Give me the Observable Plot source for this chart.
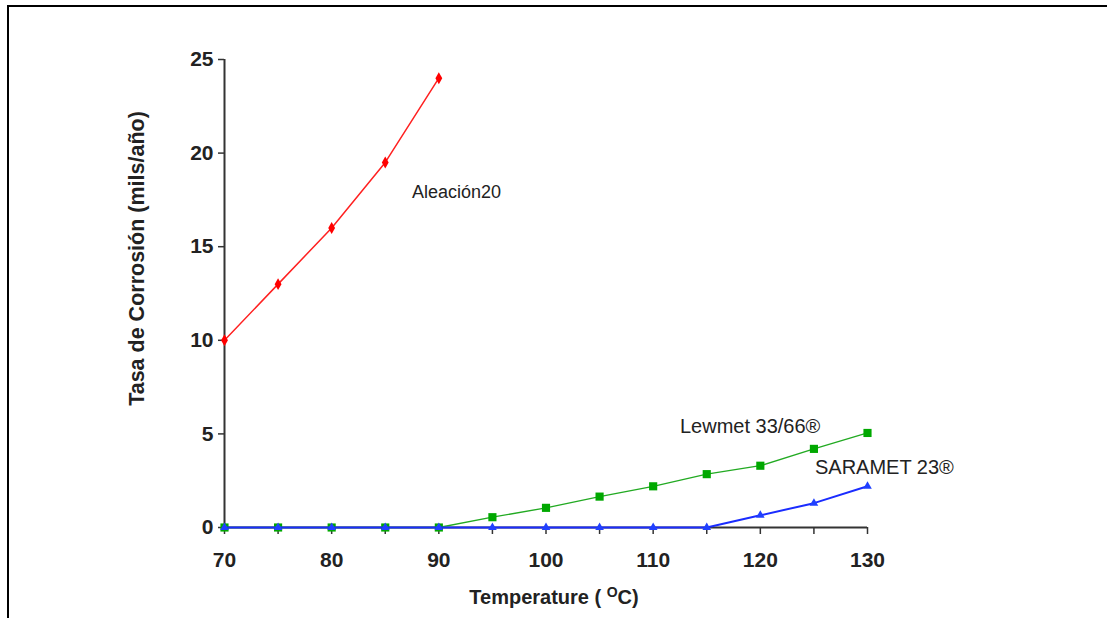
<!DOCTYPE html>
<html>
<head>
<meta charset="utf-8">
<script src="https://cdn.jsdelivr.net/npm/d3@7"></script>
<script src="https://cdn.jsdelivr.net/npm/@observablehq/plot@0.6"></script>
<style>
  html, body { margin: 0; padding: 0; background: #fff; width: 1107px; height: 618px; overflow: hidden; }
  #frame { position: absolute; left: 7px; top: 5px; width: 1200px; height: 700px; z-index: 2;
           border-top: 2px solid #000; border-left: 2px solid #000; pointer-events: none; }
  #chart { position: absolute; left: 0; top: 0; z-index: 1; }
</style>
</head>
<body>
<div id="chart"></div>
<div id="frame"></div>
<script>
// Data
const temps = [70, 75, 80, 85, 90, 95, 100, 105, 110, 115, 120, 125, 130];
const aleacionTemps = [70, 75, 80, 85, 90];
const aleacion = [10, 13, 16, 19.5, 24];
const lewmet = [0, 0, 0, 0, 0, 0.55, 1.05, 1.65, 2.2, 2.85, 3.3, 4.2, 5.05];
const saramet = [0, 0, 0, 0, 0, 0, 0, 0, 0, 0, 0.65, 1.3, 2.2];
const xTicksMinor = [70, 75, 80, 85, 90, 95, 100, 105, 110, 115, 120, 125, 130];
const xTicksMajor = [70, 80, 90, 100, 110, 120, 130];
const yTicks = [0, 5, 10, 15, 20, 25];
const seriesLabels = ["Aleación20", "Lewmet 33/66®", "SARAMET 23®"];
const labelX = [87.5, 112.5, 125.1];
const labelY = [17.9, 5.4, 3.2];

const red = aleacionTemps.map((t, i) => ({t, v: aleacion[i]}));
const green = temps.map((t, i) => ({t, v: lewmet[i]}));
const blue = temps.map((t, i) => ({t, v: saramet[i]}));
const labels = seriesLabels.map((s, i) => ({s, x: labelX[i], y: labelY[i]}));

const font = "Liberation Sans, Arial, Helvetica, sans-serif";

const plot = Plot.plot({
  width: 1107,
  height: 618,
  marginLeft: 224,
  marginRight: 240,
  marginTop: 59,
  marginBottom: 91,
  style: { fontFamily: font, background: "transparent" },
  x: { domain: [70, 130] },
  y: { domain: [0, 25] },
  marks: [
    // axis lines
    Plot.ruleY([0], { stroke: "#333", strokeWidth: 2 }),
    Plot.ruleX([70], { stroke: "#333", strokeWidth: 2 }),
    // x minor ticks (every 5) without labels
    Plot.axisX({ ticks: xTicksMinor, tickSize: 7, tickFormat: () => "", stroke: "#333", strokeWidth: 1.5, label: null }),
    // x labels every 10
    Plot.axisX({ ticks: xTicksMajor, tickSize: 0, tickPadding: 25, fontSize: 21, fontWeight: "bold", fill: "#222", label: null }),
    // y axis
    Plot.axisY({ ticks: yTicks, tickSize: 6, tickPadding: 5, fontSize: 21, fontWeight: "bold", fill: "#222", stroke: "#333", strokeWidth: 1.5, label: null }),
    // series
    Plot.line(green, { x: "t", y: "v", stroke: "#22aa22", strokeWidth: 1.3 }),
    Plot.dot(green, { x: "t", y: "v", symbol: "square", r: 4.6, fill: "#00a800", stroke: "none" }),
    Plot.line(blue, { x: "t", y: "v", stroke: "#1a2cff", strokeWidth: 2 }),
    Plot.dot(blue, { x: "t", y: "v", symbol: "triangle", r: 3.2, fill: "#2040ff", stroke: "none" }),
    Plot.line(red, { x: "t", y: "v", stroke: "#ff2020", strokeWidth: 1.5 }),
    Plot.dot(red, { x: "t", y: "v", symbol: "diamond", r: 3.6, fill: "#ff0000", stroke: "none" }),
    // series labels
    Plot.text(labels.slice(0, 1), { x: "x", y: "y", text: "s", textAnchor: "start", fontSize: 18, fill: "#222" }),
    Plot.text(labels.slice(1), { x: "x", y: "y", text: "s", textAnchor: "start", fontSize: 20, fill: "#222" }),
    // axis titles
    Plot.text(["Tasa de Corrosión (mils/año)"], { frameAnchor: "left", textAnchor: "middle", lineAnchor: "middle", rotate: -90, dx: -87, dy: -35, fontSize: 21.5, fontWeight: "bold", fill: "#222" }),
    Plot.text(["Temperature ( OC)"], { frameAnchor: "bottom", textAnchor: "middle", lineAnchor: "middle", dx: 8, dy: 70, fontSize: 20, fontWeight: "bold", fill: "#222" })
  ]
});

document.getElementById("chart").appendChild(plot);

// superscript the "O" in the x title
plot.querySelectorAll("text").forEach(t => {
  if (t.textContent === "Temperature ( OC)") {
    t.textContent = "";
    const ns = "http://www.w3.org/2000/svg";
    const a = document.createElementNS(ns, "tspan"); a.textContent = "Temperature ( ";
    const b = document.createElementNS(ns, "tspan"); b.textContent = "O"; b.setAttribute("font-size", "14"); b.setAttribute("dy", "-7");
    const c = document.createElementNS(ns, "tspan"); c.textContent = "C)"; c.setAttribute("dy", "7");
    t.appendChild(a); t.appendChild(b); t.appendChild(c);
  }
});
</script>
</body>
</html>
